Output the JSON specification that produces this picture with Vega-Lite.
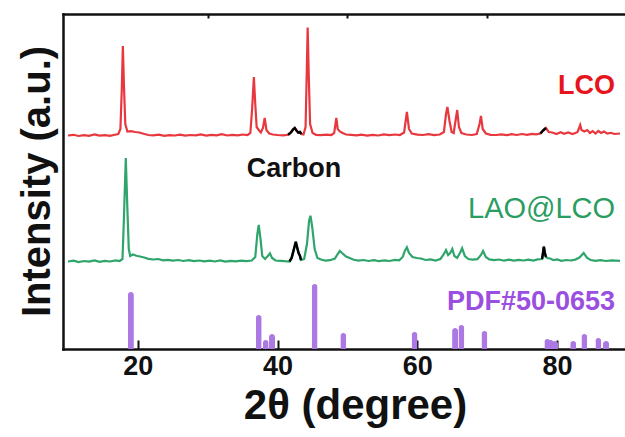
{
  "$schema": "https://vega.github.io/schema/vega-lite/v6.json",
  "width": 562,
  "height": 335,
  "autosize": "none",
  "padding": {"left": 63, "top": 14, "right": 0, "bottom": 88},
  "background": "white",
  "config": {
    "view": {"stroke": null},
    "font": "Liberation Sans",
    "axis": {
      "domainColor": "#111111",
      "domainWidth": 2.5,
      "domainCap": "square",
      "tickColor": "#111111",
      "labelFont": "Liberation Sans",
      "titleFont": "Liberation Sans",
      "grid": false
    }
  },
  "datasets": {
    "patterns": [
      {"s": "LCO", "t": 10.0, "v": 213.5}, {"s": "LCO", "t": 10.8, "v": 214.2}, {"s": "LCO", "t": 11.5, "v": 213.0},
      {"s": "LCO", "t": 12.3, "v": 213.8}, {"s": "LCO", "t": 13.0, "v": 213.2}, {"s": "LCO", "t": 13.8, "v": 214.5},
      {"s": "LCO", "t": 14.5, "v": 213.4}, {"s": "LCO", "t": 15.3, "v": 213.9}, {"s": "LCO", "t": 16.0, "v": 213.1},
      {"s": "LCO", "t": 16.7, "v": 214.3}, {"s": "LCO", "t": 17.2, "v": 215.0}, {"s": "LCO", "t": 17.5, "v": 220},
      {"s": "LCO", "t": 17.7, "v": 260}, {"s": "LCO", "t": 17.85, "v": 303}, {"s": "LCO", "t": 18.0, "v": 265},
      {"s": "LCO", "t": 18.2, "v": 225}, {"s": "LCO", "t": 18.5, "v": 217.5}, {"s": "LCO", "t": 19.0, "v": 217.8},
      {"s": "LCO", "t": 19.6, "v": 217.0}, {"s": "LCO", "t": 20.2, "v": 216.5}, {"s": "LCO", "t": 20.8, "v": 215.2},
      {"s": "LCO", "t": 21.5, "v": 214.0}, {"s": "LCO", "t": 22.2, "v": 213.6}, {"s": "LCO", "t": 23.0, "v": 214.4},
      {"s": "LCO", "t": 23.8, "v": 213.2}, {"s": "LCO", "t": 24.5, "v": 213.9}, {"s": "LCO", "t": 25.3, "v": 213.5},
      {"s": "LCO", "t": 26.0, "v": 214.3}, {"s": "LCO", "t": 26.8, "v": 213.3}, {"s": "LCO", "t": 27.5, "v": 214.0},
      {"s": "LCO", "t": 28.3, "v": 213.6}, {"s": "LCO", "t": 29.0, "v": 214.6}, {"s": "LCO", "t": 29.8, "v": 213.4},
      {"s": "LCO", "t": 30.5, "v": 214.2}, {"s": "LCO", "t": 31.3, "v": 213.6}, {"s": "LCO", "t": 32.0, "v": 214.8},
      {"s": "LCO", "t": 32.8, "v": 213.5}, {"s": "LCO", "t": 33.5, "v": 214.2}, {"s": "LCO", "t": 34.3, "v": 213.7},
      {"s": "LCO", "t": 35.0, "v": 214.5}, {"s": "LCO", "t": 35.7, "v": 214.0}, {"s": "LCO", "t": 36.1, "v": 216.0},
      {"s": "LCO", "t": 36.35, "v": 240}, {"s": "LCO", "t": 36.6, "v": 272}, {"s": "LCO", "t": 36.8, "v": 245},
      {"s": "LCO", "t": 37.0, "v": 222}, {"s": "LCO", "t": 37.3, "v": 219}, {"s": "LCO", "t": 37.6, "v": 216.5},
      {"s": "LCO", "t": 37.9, "v": 221}, {"s": "LCO", "t": 38.15, "v": 231}, {"s": "LCO", "t": 38.4, "v": 219},
      {"s": "LCO", "t": 38.8, "v": 215.5}, {"s": "LCO", "t": 39.3, "v": 214.5}, {"s": "LCO", "t": 40.0, "v": 214.0},
      {"s": "LCO", "t": 40.8, "v": 213.6}, {"s": "LCO", "t": 41.5, "v": 214.2}, {"s": "LCO", "t": 41.9, "v": 216.5},
      {"s": "LCO", "t": 42.2, "v": 219.5}, {"s": "LCO", "t": 42.45, "v": 221}, {"s": "LCO", "t": 42.7, "v": 218.5},
      {"s": "LCO", "t": 42.95, "v": 216.5}, {"s": "LCO", "t": 43.2, "v": 217}, {"s": "LCO", "t": 43.4, "v": 215},
      {"s": "LCO", "t": 43.7, "v": 214.5}, {"s": "LCO", "t": 44.0, "v": 222}, {"s": "LCO", "t": 44.15, "v": 270},
      {"s": "LCO", "t": 44.3, "v": 321.5}, {"s": "LCO", "t": 44.45, "v": 275}, {"s": "LCO", "t": 44.65, "v": 225},
      {"s": "LCO", "t": 45.0, "v": 216}, {"s": "LCO", "t": 45.5, "v": 214.2}, {"s": "LCO", "t": 46.2, "v": 213.8},
      {"s": "LCO", "t": 47.0, "v": 214.4}, {"s": "LCO", "t": 47.7, "v": 214.0}, {"s": "LCO", "t": 48.1, "v": 216},
      {"s": "LCO", "t": 48.4, "v": 231}, {"s": "LCO", "t": 48.6, "v": 220}, {"s": "LCO", "t": 48.9, "v": 217.5},
      {"s": "LCO", "t": 49.3, "v": 216}, {"s": "LCO", "t": 49.8, "v": 214.5}, {"s": "LCO", "t": 50.5, "v": 214.2},
      {"s": "LCO", "t": 51.3, "v": 213.6}, {"s": "LCO", "t": 52.0, "v": 214.4}, {"s": "LCO", "t": 52.8, "v": 213.4},
      {"s": "LCO", "t": 53.6, "v": 214.2}, {"s": "LCO", "t": 54.4, "v": 213.5}, {"s": "LCO", "t": 55.2, "v": 214.6},
      {"s": "LCO", "t": 56.0, "v": 213.8}, {"s": "LCO", "t": 56.8, "v": 214.5}, {"s": "LCO", "t": 57.5, "v": 214.0},
      {"s": "LCO", "t": 58.1, "v": 216.5}, {"s": "LCO", "t": 58.5, "v": 237}, {"s": "LCO", "t": 58.8, "v": 220},
      {"s": "LCO", "t": 59.2, "v": 215.5}, {"s": "LCO", "t": 60.0, "v": 214.4}, {"s": "LCO", "t": 60.8, "v": 214.0},
      {"s": "LCO", "t": 61.6, "v": 214.8}, {"s": "LCO", "t": 62.4, "v": 213.8}, {"s": "LCO", "t": 63.2, "v": 214.5},
      {"s": "LCO", "t": 63.8, "v": 217}, {"s": "LCO", "t": 64.1, "v": 235}, {"s": "LCO", "t": 64.3, "v": 242},
      {"s": "LCO", "t": 64.6, "v": 228}, {"s": "LCO", "t": 64.9, "v": 217}, {"s": "LCO", "t": 65.2, "v": 216},
      {"s": "LCO", "t": 65.5, "v": 230}, {"s": "LCO", "t": 65.7, "v": 239}, {"s": "LCO", "t": 65.95, "v": 222},
      {"s": "LCO", "t": 66.3, "v": 216}, {"s": "LCO", "t": 67.0, "v": 214.5}, {"s": "LCO", "t": 67.8, "v": 214.0},
      {"s": "LCO", "t": 68.5, "v": 215}, {"s": "LCO", "t": 68.9, "v": 225}, {"s": "LCO", "t": 69.1, "v": 233},
      {"s": "LCO", "t": 69.35, "v": 220}, {"s": "LCO", "t": 69.8, "v": 215.5}, {"s": "LCO", "t": 70.5, "v": 214.2},
      {"s": "LCO", "t": 71.3, "v": 214.0}, {"s": "LCO", "t": 72.0, "v": 214.6}, {"s": "LCO", "t": 72.8, "v": 213.8},
      {"s": "LCO", "t": 73.5, "v": 214.8}, {"s": "LCO", "t": 74.2, "v": 214.0}, {"s": "LCO", "t": 75.0, "v": 215.0},
      {"s": "LCO", "t": 75.7, "v": 214.2}, {"s": "LCO", "t": 76.4, "v": 215.2}, {"s": "LCO", "t": 77.0, "v": 214.6},
      {"s": "LCO", "t": 77.6, "v": 215.5}, {"s": "LCO", "t": 78.0, "v": 218.5}, {"s": "LCO", "t": 78.4, "v": 221},
      {"s": "LCO", "t": 78.8, "v": 217}, {"s": "LCO", "t": 79.3, "v": 216.5}, {"s": "LCO", "t": 79.9, "v": 215},
      {"s": "LCO", "t": 80.5, "v": 216.8}, {"s": "LCO", "t": 81.0, "v": 215.2}, {"s": "LCO", "t": 81.6, "v": 216.5},
      {"s": "LCO", "t": 82.2, "v": 215.0}, {"s": "LCO", "t": 82.9, "v": 216.8}, {"s": "LCO", "t": 83.15, "v": 221},
      {"s": "LCO", "t": 83.3, "v": 224}, {"s": "LCO", "t": 83.5, "v": 219}, {"s": "LCO", "t": 83.9, "v": 217.5},
      {"s": "LCO", "t": 84.3, "v": 219}, {"s": "LCO", "t": 84.7, "v": 216}, {"s": "LCO", "t": 85.1, "v": 217.8},
      {"s": "LCO", "t": 85.5, "v": 215.5}, {"s": "LCO", "t": 85.9, "v": 218}, {"s": "LCO", "t": 86.3, "v": 216},
      {"s": "LCO", "t": 86.7, "v": 217.5}, {"s": "LCO", "t": 87.2, "v": 215.4}, {"s": "LCO", "t": 87.7, "v": 216.2},
      {"s": "LCO", "t": 88.2, "v": 215.0}, {"s": "LCO", "t": 89.0, "v": 215.5},

      {"s": "LAO@LCO", "t": 10.0, "v": 87.5}, {"s": "LAO@LCO", "t": 10.8, "v": 88.3}, {"s": "LAO@LCO", "t": 11.5, "v": 87.0},
      {"s": "LAO@LCO", "t": 12.3, "v": 88.0}, {"s": "LAO@LCO", "t": 13.0, "v": 87.4}, {"s": "LAO@LCO", "t": 13.8, "v": 88.6},
      {"s": "LAO@LCO", "t": 14.5, "v": 87.2}, {"s": "LAO@LCO", "t": 15.3, "v": 88.1}, {"s": "LAO@LCO", "t": 16.0, "v": 87.5},
      {"s": "LAO@LCO", "t": 16.8, "v": 88.7}, {"s": "LAO@LCO", "t": 17.4, "v": 88.0}, {"s": "LAO@LCO", "t": 17.8, "v": 90},
      {"s": "LAO@LCO", "t": 18.0, "v": 130}, {"s": "LAO@LCO", "t": 18.27, "v": 191}, {"s": "LAO@LCO", "t": 18.5, "v": 140},
      {"s": "LAO@LCO", "t": 18.7, "v": 100}, {"s": "LAO@LCO", "t": 18.9, "v": 93}, {"s": "LAO@LCO", "t": 19.3, "v": 94.5},
      {"s": "LAO@LCO", "t": 19.8, "v": 93.2}, {"s": "LAO@LCO", "t": 20.3, "v": 92.5}, {"s": "LAO@LCO", "t": 20.9, "v": 91.5},
      {"s": "LAO@LCO", "t": 21.5, "v": 90.2}, {"s": "LAO@LCO", "t": 22.2, "v": 89.5}, {"s": "LAO@LCO", "t": 22.9, "v": 90.0},
      {"s": "LAO@LCO", "t": 23.6, "v": 88.6}, {"s": "LAO@LCO", "t": 24.3, "v": 89.2}, {"s": "LAO@LCO", "t": 25.0, "v": 88.4},
      {"s": "LAO@LCO", "t": 25.8, "v": 89.0}, {"s": "LAO@LCO", "t": 26.5, "v": 88.0}, {"s": "LAO@LCO", "t": 27.3, "v": 88.8},
      {"s": "LAO@LCO", "t": 28.0, "v": 87.8}, {"s": "LAO@LCO", "t": 28.8, "v": 88.5}, {"s": "LAO@LCO", "t": 29.5, "v": 87.6},
      {"s": "LAO@LCO", "t": 30.3, "v": 88.3}, {"s": "LAO@LCO", "t": 31.0, "v": 87.5}, {"s": "LAO@LCO", "t": 31.8, "v": 88.6},
      {"s": "LAO@LCO", "t": 32.5, "v": 87.4}, {"s": "LAO@LCO", "t": 33.3, "v": 88.2}, {"s": "LAO@LCO", "t": 34.0, "v": 87.6},
      {"s": "LAO@LCO", "t": 34.8, "v": 88.4}, {"s": "LAO@LCO", "t": 35.5, "v": 87.8}, {"s": "LAO@LCO", "t": 36.3, "v": 88.5},
      {"s": "LAO@LCO", "t": 36.8, "v": 92}, {"s": "LAO@LCO", "t": 37.1, "v": 115}, {"s": "LAO@LCO", "t": 37.3, "v": 124},
      {"s": "LAO@LCO", "t": 37.55, "v": 110}, {"s": "LAO@LCO", "t": 37.8, "v": 93}, {"s": "LAO@LCO", "t": 38.2, "v": 90},
      {"s": "LAO@LCO", "t": 38.6, "v": 93}, {"s": "LAO@LCO", "t": 38.9, "v": 95.7}, {"s": "LAO@LCO", "t": 39.2, "v": 91},
      {"s": "LAO@LCO", "t": 39.7, "v": 88.5}, {"s": "LAO@LCO", "t": 40.4, "v": 88.2}, {"s": "LAO@LCO", "t": 41.0, "v": 87.8},
      {"s": "LAO@LCO", "t": 41.7, "v": 87.5}, {"s": "LAO@LCO", "t": 42.0, "v": 91}, {"s": "LAO@LCO", "t": 42.3, "v": 99},
      {"s": "LAO@LCO", "t": 42.6, "v": 107.3}, {"s": "LAO@LCO", "t": 42.85, "v": 100}, {"s": "LAO@LCO", "t": 43.0, "v": 96},
      {"s": "LAO@LCO", "t": 43.2, "v": 93}, {"s": "LAO@LCO", "t": 43.35, "v": 89}, {"s": "LAO@LCO", "t": 43.8, "v": 90},
      {"s": "LAO@LCO", "t": 44.2, "v": 105}, {"s": "LAO@LCO", "t": 44.5, "v": 128}, {"s": "LAO@LCO", "t": 44.7, "v": 133.3},
      {"s": "LAO@LCO", "t": 44.95, "v": 122}, {"s": "LAO@LCO", "t": 45.3, "v": 100}, {"s": "LAO@LCO", "t": 45.7, "v": 91},
      {"s": "LAO@LCO", "t": 46.2, "v": 89.5}, {"s": "LAO@LCO", "t": 46.8, "v": 88.4}, {"s": "LAO@LCO", "t": 47.5, "v": 88.8},
      {"s": "LAO@LCO", "t": 48.2, "v": 90.5}, {"s": "LAO@LCO", "t": 48.6, "v": 95}, {"s": "LAO@LCO", "t": 48.9, "v": 98},
      {"s": "LAO@LCO", "t": 49.3, "v": 95.5}, {"s": "LAO@LCO", "t": 49.8, "v": 92.5}, {"s": "LAO@LCO", "t": 50.3, "v": 91},
      {"s": "LAO@LCO", "t": 50.9, "v": 89.2}, {"s": "LAO@LCO", "t": 51.6, "v": 88.4}, {"s": "LAO@LCO", "t": 52.3, "v": 89.0},
      {"s": "LAO@LCO", "t": 53.0, "v": 88.0}, {"s": "LAO@LCO", "t": 53.8, "v": 88.9}, {"s": "LAO@LCO", "t": 54.5, "v": 87.8},
      {"s": "LAO@LCO", "t": 55.3, "v": 88.6}, {"s": "LAO@LCO", "t": 56.0, "v": 88.0}, {"s": "LAO@LCO", "t": 56.8, "v": 89.2},
      {"s": "LAO@LCO", "t": 57.4, "v": 88.6}, {"s": "LAO@LCO", "t": 57.9, "v": 92}, {"s": "LAO@LCO", "t": 58.2, "v": 98},
      {"s": "LAO@LCO", "t": 58.5, "v": 101.7}, {"s": "LAO@LCO", "t": 58.8, "v": 96}, {"s": "LAO@LCO", "t": 59.3, "v": 92},
      {"s": "LAO@LCO", "t": 59.9, "v": 91}, {"s": "LAO@LCO", "t": 60.5, "v": 90.5}, {"s": "LAO@LCO", "t": 61.2, "v": 89.0},
      {"s": "LAO@LCO", "t": 61.9, "v": 89.6}, {"s": "LAO@LCO", "t": 62.6, "v": 88.4}, {"s": "LAO@LCO", "t": 63.3, "v": 90},
      {"s": "LAO@LCO", "t": 63.8, "v": 95}, {"s": "LAO@LCO", "t": 64.1, "v": 99}, {"s": "LAO@LCO", "t": 64.4, "v": 94},
      {"s": "LAO@LCO", "t": 64.7, "v": 96}, {"s": "LAO@LCO", "t": 65.0, "v": 100}, {"s": "LAO@LCO", "t": 65.3, "v": 93},
      {"s": "LAO@LCO", "t": 65.7, "v": 91}, {"s": "LAO@LCO", "t": 66.1, "v": 96}, {"s": "LAO@LCO", "t": 66.4, "v": 100.7},
      {"s": "LAO@LCO", "t": 66.8, "v": 93}, {"s": "LAO@LCO", "t": 67.3, "v": 90}, {"s": "LAO@LCO", "t": 67.9, "v": 89.4},
      {"s": "LAO@LCO", "t": 68.6, "v": 89.8}, {"s": "LAO@LCO", "t": 69.1, "v": 94}, {"s": "LAO@LCO", "t": 69.4, "v": 98},
      {"s": "LAO@LCO", "t": 69.8, "v": 92}, {"s": "LAO@LCO", "t": 70.3, "v": 89.6}, {"s": "LAO@LCO", "t": 71.0, "v": 88.8},
      {"s": "LAO@LCO", "t": 71.7, "v": 89.5}, {"s": "LAO@LCO", "t": 72.4, "v": 88.3}, {"s": "LAO@LCO", "t": 73.1, "v": 89.3},
      {"s": "LAO@LCO", "t": 73.8, "v": 88.4}, {"s": "LAO@LCO", "t": 74.5, "v": 89.2}, {"s": "LAO@LCO", "t": 75.2, "v": 88.5},
      {"s": "LAO@LCO", "t": 75.9, "v": 89.4}, {"s": "LAO@LCO", "t": 76.6, "v": 88.4}, {"s": "LAO@LCO", "t": 77.2, "v": 89.6},
      {"s": "LAO@LCO", "t": 77.85, "v": 90}, {"s": "LAO@LCO", "t": 78.0, "v": 97}, {"s": "LAO@LCO", "t": 78.1, "v": 102.3},
      {"s": "LAO@LCO", "t": 78.25, "v": 96}, {"s": "LAO@LCO", "t": 78.4, "v": 92}, {"s": "LAO@LCO", "t": 78.6, "v": 91},
      {"s": "LAO@LCO", "t": 79.0, "v": 90.5}, {"s": "LAO@LCO", "t": 79.5, "v": 88.8}, {"s": "LAO@LCO", "t": 80.0, "v": 89.5},
      {"s": "LAO@LCO", "t": 80.6, "v": 88.2}, {"s": "LAO@LCO", "t": 81.3, "v": 89.0}, {"s": "LAO@LCO", "t": 82.0, "v": 88.5},
      {"s": "LAO@LCO", "t": 82.6, "v": 89.4}, {"s": "LAO@LCO", "t": 83.2, "v": 91.5}, {"s": "LAO@LCO", "t": 83.8, "v": 96},
      {"s": "LAO@LCO", "t": 84.3, "v": 91}, {"s": "LAO@LCO", "t": 84.8, "v": 89.0}, {"s": "LAO@LCO", "t": 85.5, "v": 88.2},
      {"s": "LAO@LCO", "t": 86.2, "v": 88.9}, {"s": "LAO@LCO", "t": 87.0, "v": 88.0}, {"s": "LAO@LCO", "t": 87.8, "v": 88.6},
      {"s": "LAO@LCO", "t": 89.0, "v": 88.2}
    ],
    "carbon": [
      {"seg": "c1", "t": 41.5, "v": 214.2}, {"seg": "c1", "t": 41.9, "v": 216.5}, {"seg": "c1", "t": 42.2, "v": 219.5},
      {"seg": "c1", "t": 42.45, "v": 221}, {"seg": "c1", "t": 42.7, "v": 218.5}, {"seg": "c1", "t": 42.95, "v": 216.5},
      {"seg": "c1", "t": 43.2, "v": 217}, {"seg": "c1", "t": 43.4, "v": 215},
      {"seg": "c2", "t": 77.6, "v": 215.5}, {"seg": "c2", "t": 78.0, "v": 218.5}, {"seg": "c2", "t": 78.4, "v": 221},
      {"seg": "c3", "t": 41.7, "v": 87.5}, {"seg": "c3", "t": 42.0, "v": 91}, {"seg": "c3", "t": 42.3, "v": 99},
      {"seg": "c3", "t": 42.6, "v": 107.3}, {"seg": "c3", "t": 42.85, "v": 100}, {"seg": "c3", "t": 43.0, "v": 96},
      {"seg": "c3", "t": 43.2, "v": 93}, {"seg": "c3", "t": 43.35, "v": 89},
      {"seg": "c4", "t": 77.85, "v": 90}, {"seg": "c4", "t": 78.0, "v": 97}, {"seg": "c4", "t": 78.1, "v": 102.3},
      {"seg": "c4", "t": 78.25, "v": 96}, {"seg": "c4", "t": 78.4, "v": 92}
    ],
    "pdf": [
      {"t": 19.0, "v": 57}, {"t": 37.3, "v": 34}, {"t": 38.3, "v": 9}, {"t": 39.2, "v": 15},
      {"t": 45.3, "v": 65}, {"t": 49.4, "v": 16}, {"t": 59.6, "v": 17}, {"t": 65.4, "v": 21},
      {"t": 66.3, "v": 24}, {"t": 69.6, "v": 18}, {"t": 78.6, "v": 10}, {"t": 79.1, "v": 9},
      {"t": 79.7, "v": 8}, {"t": 82.3, "v": 8}, {"t": 83.9, "v": 15}, {"t": 85.9, "v": 11},
      {"t": 87.0, "v": 8}
    ],
    "boldLabels": [
      {"text": "LCO", "t": 88.3, "v": 255, "c": "#e8141c"},
      {"text": "Carbon", "t": 49.1, "v": 172, "c": "#111111"},
      {"text": "PDF#50-0653", "t": 88.3, "v": 39, "c": "#9b4fe0"}
    ],
    "plainLabels": [
      {"text": "LAO@LCO", "t": 88.3, "v": 131, "c": "#2a9d62"}
    ]
  },
  "resolve": {"axis": {"x": "independent"}},
  "layer": [
    {
      "data": {"name": "patterns"},
      "mark": {"type": "line", "strokeWidth": 2.2, "interpolate": "linear"},
      "encoding": {
        "x": {
          "field": "t", "type": "quantitative",
          "scale": {"domain": [10, 89], "nice": false, "zero": false},
          "axis": {
            "values": [20, 40, 60, 80],
            "title": "2θ (degree)",
            "titleFontSize": 42, "titleFontWeight": "bold", "titleColor": "#111111",
            "titleX": 292, "titleY": 69, "titleBaseline": "alphabetic", "titleAnchor": null,
            "labelFontSize": 27, "labelFontWeight": "bold", "labelColor": "#111111",
            "labelBaseline": "alphabetic", "labelPadding": 34,
            "tickSize": -9, "tickWidth": 2
          }
        },
        "y": {
          "field": "v", "type": "quantitative",
          "scale": {"domain": [0, 335], "nice": false, "zero": false},
          "axis": {
            "title": "Intensity (a.u.)",
            "titleFontSize": 40, "titleFontWeight": "bold", "titleColor": "#111111",
            "titleAngle": -90, "titleX": -14, "titleY": 167,
            "titleAlign": "center", "titleBaseline": "alphabetic", "titleAnchor": null,
            "labels": false, "ticks": false
          }
        },
        "color": {
          "field": "s", "type": "nominal",
          "scale": {"domain": ["LCO", "LAO@LCO"], "range": ["#e8383e", "#2fa56b"]},
          "legend": null
        }
      }
    },
    {
      "data": {"name": "carbon"},
      "mark": {"type": "line", "strokeWidth": 2.5, "color": "#000000"},
      "encoding": {
        "x": {
          "field": "t", "type": "quantitative",
          "axis": {"values": [30, 50, 70], "labels": false, "domain": false, "title": null, "tickSize": -4, "tickWidth": 2}
        },
        "y": {"field": "v", "type": "quantitative"},
        "detail": {"field": "seg"}
      }
    },
    {
      "data": {"name": "pdf"},
      "mark": {"type": "bar", "size": 6, "color": "#ab78e4", "cornerRadiusTopLeft": 3, "cornerRadiusTopRight": 3},
      "encoding": {
        "x": {
          "field": "t", "type": "quantitative",
          "axis": {"orient": "top", "labels": false, "ticks": false, "title": null}
        },
        "y": {"field": "v", "type": "quantitative"}
      }
    },
    {
      "data": {"name": "boldLabels"},
      "mark": {"type": "text", "align": "right", "baseline": "alphabetic", "fontSize": 27, "fontWeight": "bold", "font": "Liberation Sans"},
      "encoding": {
        "x": {"field": "t", "type": "quantitative", "axis": null},
        "y": {"field": "v", "type": "quantitative"},
        "text": {"field": "text"},
        "color": {"field": "c", "type": "nominal", "scale": null}
      }
    },
    {
      "data": {"name": "plainLabels"},
      "mark": {"type": "text", "align": "right", "baseline": "alphabetic", "fontSize": 29, "font": "Liberation Sans"},
      "encoding": {
        "x": {"field": "t", "type": "quantitative", "axis": null},
        "y": {"field": "v", "type": "quantitative"},
        "text": {"field": "text"},
        "color": {"field": "c", "type": "nominal", "scale": null}
      }
    }
  ]
}
